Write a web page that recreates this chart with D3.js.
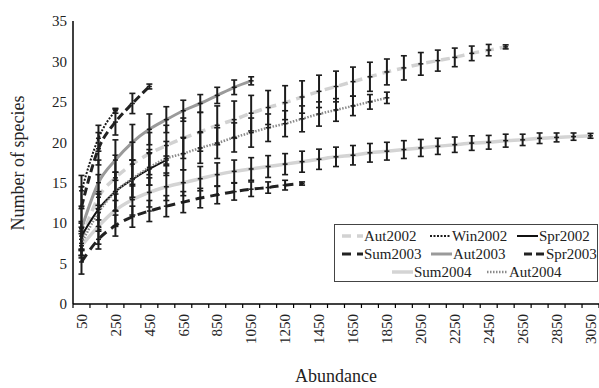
<!DOCTYPE html>
<html>
<head>
<meta charset="utf-8">
<script src="https://cdn.jsdelivr.net/npm/d3@7"></script>
<style>
  body { margin: 0; background: #fff; }
  svg { display: block; }
</style>
</head>
<body>
<div id="chart"></div>
<script>
// Abundance categories on the x axis
const abundance = [50, 150, 250, 350, 450, 550, 650, 750, 850, 950,
  1050, 1150, 1250, 1350, 1450, 1550, 1650, 1750, 1850, 1950,
  2050, 2150, 2250, 2350, 2450, 2550, 2650, 2750, 2850, 2950, 3050]
const xTickLabels = [50, 250, 450, 650, 850, 1050, 1250, 1450, 1650, 1850,
  2050, 2250, 2450, 2650, 2850, 3050]
const yTicks = [0, 5, 10, 15, 20, 25, 30, 35]

// Mean species counts and error (one value per abundance step, starting at 50)
const aut2002 = [8.0, 13.2, 15.6, 17.3, 18.6, 19.6, 20.5, 21.3, 22.1, 22.8,
  23.6, 24.3, 24.9, 25.6, 26.3, 26.9, 27.5, 28.1, 28.7, 29.2,
  29.7, 30.1, 30.5, 31.0, 31.4, 31.8]
const aut2002Err = [2.0, 2.8, 2.8, 2.7, 2.6, 2.5, 2.5, 2.4, 2.4, 2.3,
  2.2, 2.1, 2.1, 2.0, 2.0, 1.9, 1.8, 1.8, 1.6, 1.5,
  1.4, 1.3, 1.15, 0.9, 0.7, 0.25]

const win2002 = [14.0, 20.5, 23.9]
const win2002Err = [1.9, 1.6, 0.3]

const spr2002 = [8.4, 11.7, 13.9, 15.4, 16.7, 17.8]
const spr2002Err = [1.8, 2.2, 2.4, 2.4, 2.0, 0.5]

const sum2003 = [5.2, 8.0, 9.7, 10.8, 11.5, 12.1, 12.6, 13.1, 13.5, 13.9,
  14.2, 14.4, 14.7, 14.9]
const sum2003Err = [1.5, 1.2, 1.3, 1.3, 1.3, 1.3, 1.3, 1.2, 1.1, 1.05,
  0.9, 0.7, 0.6, 0.2]

const aut2003 = [9.3, 15.0, 17.8, 20.0, 21.6, 22.8, 23.9, 24.8, 25.8, 26.8, 27.6]
const aut2003Err = [2.5, 2.8, 2.5, 2.2, 1.9, 1.6, 1.3, 1.1, 1.0, 0.9, 0.5]

const spr2003 = [12.0, 19.2, 22.5, 24.8, 26.9]
const spr2003Err = [2.5, 2.0, 1.6, 1.25, 0.3]

const sum2004 = [7.2, 9.6, 11.6, 12.9, 13.8, 14.5, 15.0, 15.5, 16.0, 16.4,
  16.7, 17.0, 17.3, 17.6, 17.9, 18.2, 18.4, 18.7, 18.9, 19.1,
  19.3, 19.5, 19.7, 19.9, 20.0, 20.2, 20.3, 20.5, 20.6, 20.7, 20.8]
const sum2004Err = [1.5, 2.2, 2.0, 1.9, 1.8, 1.7, 1.6, 1.5, 1.45, 1.4,
  1.4, 1.35, 1.3, 1.3, 1.25, 1.2, 1.2, 1.15, 1.1, 1.1,
  1.05, 1.0, 0.95, 0.9, 0.85, 0.8, 0.7, 0.65, 0.55, 0.45, 0.3]

const aut2004 = [7.5, 11.3, 13.9, 15.5, 16.9, 18.0, 18.6, 19.3, 19.9, 20.6,
  21.2, 21.8, 22.3, 22.9, 23.5, 24.0, 24.5, 25.0, 25.5]
const aut2004Err = [1.5, 2.3, 2.4, 2.3, 2.2, 2.1, 2.0, 1.9, 1.9, 1.8,
  1.8, 1.7, 1.6, 1.6, 1.5, 1.4, 1.2, 0.9, 0.7]

const series = [
  { name: "Aut2002", values: aut2002, err: aut2002Err, color: "#d2d2d2", width: 3.5, dash: "9,6" },
  { name: "Win2002", values: win2002, err: win2002Err, color: "#1a1a1a", width: 2, dash: "2,1.5" },
  { name: "Spr2002", values: spr2002, err: spr2002Err, color: "#111", width: 2, dash: null },
  { name: "Sum2003", values: sum2003, err: sum2003Err, color: "#222", width: 3, dash: "9,6" },
  { name: "Aut2003", values: aut2003, err: aut2003Err, color: "#9a9a9a", width: 3, dash: null },
  { name: "Spr2003", values: spr2003, err: spr2003Err, color: "#222", width: 3, dash: "8,4" },
  { name: "Sum2004", values: sum2004, err: sum2004Err, color: "#d4d4d4", width: 3.5, dash: null },
  { name: "Aut2004", values: aut2004, err: aut2004Err, color: "#8a8a8a", width: 2.5, dash: "1.5,1.5" }
]

const width = 599
const height = 388
const margin = { top: 21, right: 0, bottom: 84, left: 73 }
const font = "'Liberation Serif', 'Times New Roman', serif"

const svg = d3.select("#chart")
  .append("svg")
  .attr("width", width)
  .attr("height", height)
  .style("font-family", font)

const x = d3.scaleBand()
  .domain(abundance)
  .range([margin.left, width - margin.right])
  .padding(0)

const y = d3.scaleLinear()
  .domain([0, 35])
  .range([height - margin.bottom, margin.top])

const cx = d => x(d) + x.bandwidth() / 2
const baseY = y(0)

// Y axis
svg.append("line")
  .attr("x1", margin.left).attr("x2", margin.left)
  .attr("y1", y(35)).attr("y2", baseY)
  .attr("stroke", "#000").attr("stroke-width", 1.5)

svg.selectAll(".y-label")
  .data(yTicks)
  .enter()
  .append("text")
  .attr("class", "y-label")
  .attr("x", margin.left - 6)
  .attr("y", d => y(d))
  .attr("dy", "0.35em")
  .attr("text-anchor", "end")
  .attr("font-size", 15)
  .attr("fill", "#222")
  .text(d => d)

// X axis with ticks between categories
svg.append("line")
  .attr("x1", margin.left).attr("x2", width)
  .attr("y1", baseY).attr("y2", baseY)
  .attr("stroke", "#000").attr("stroke-width", 1.5)

const boundaries = abundance.map(d => x(d)).concat([x(abundance[abundance.length - 1]) + x.bandwidth()])
svg.selectAll(".x-tick")
  .data(boundaries)
  .enter()
  .append("line")
  .attr("class", "x-tick")
  .attr("x1", d => d).attr("x2", d => d)
  .attr("y1", baseY).attr("y2", baseY + 4)
  .attr("stroke", "#000").attr("stroke-width", 1.2)

svg.selectAll(".x-label")
  .data(xTickLabels)
  .enter()
  .append("text")
  .attr("class", "x-label")
  .attr("transform", d => `translate(${cx(d)},${baseY + 10}) rotate(-90)`)
  .attr("dy", "0.35em")
  .attr("text-anchor", "end")
  .attr("font-size", 15)
  .attr("fill", "#222")
  .text(d => d)

// Axis titles
svg.append("text")
  .attr("x", (margin.left + width) / 2)
  .attr("y", 382)
  .attr("text-anchor", "middle")
  .attr("font-size", 18)
  .attr("fill", "#222")
  .text("Abundance")

svg.append("text")
  .attr("transform", `translate(24,163) rotate(-90)`)
  .attr("text-anchor", "middle")
  .attr("font-size", 18)
  .attr("fill", "#222")
  .text("Number of species")

// Series lines and error bars
const line = d3.line()
  .x((d, i) => cx(abundance[i]))
  .y(d => y(d))
  .curve(d3.curveMonotoneX)

const capHalf = 3

for (const s of series) {
  const g = svg.append("g").attr("class", "series")

  g.append("path")
    .datum(s.values)
    .attr("fill", "none")
    .attr("stroke", s.color)
    .attr("stroke-width", s.width)
    .attr("stroke-dasharray", s.dash)
    .attr("d", line)

  const pts = s.values.map((v, i) => ({ x: cx(abundance[i]), v, e: s.err[i] }))
  const bars = g.selectAll(".bar")
    .data(pts)
    .enter()
    .append("g")
    .attr("class", "bar")
    .attr("stroke", "#1c1c1c")

  bars.append("line")
    .attr("x1", d => d.x).attr("x2", d => d.x)
    .attr("y1", d => y(d.v + d.e)).attr("y2", d => y(d.v - d.e))
    .attr("stroke-width", 2)
  bars.append("line")
    .attr("x1", d => d.x - capHalf).attr("x2", d => d.x + capHalf)
    .attr("y1", d => y(d.v + d.e)).attr("y2", d => y(d.v + d.e))
    .attr("stroke-width", 1.6)
  bars.append("line")
    .attr("x1", d => d.x - capHalf).attr("x2", d => d.x + capHalf)
    .attr("y1", d => y(d.v - d.e)).attr("y2", d => y(d.v - d.e))
    .attr("stroke-width", 1.6)
  bars.append("line")
    .attr("x1", d => d.x - 2.5).attr("x2", d => d.x + 2.5)
    .attr("y1", d => y(d.v)).attr("y2", d => y(d.v))
    .attr("stroke-width", 1.5)
}

// Legend
const legend = svg.append("g").attr("class", "legend")
legend.append("rect")
  .attr("x", 334.5).attr("y", 224.5)
  .attr("width", 263).attr("height", 57)
  .attr("fill", "#fff")
  .attr("stroke", "#444")
  .attr("stroke-width", 1)

const legendPos = [
  { x: 342, y: 236 }, { x: 430, y: 236 }, { x: 517, y: 236 },
  { x: 342, y: 254 }, { x: 431, y: 254 }, { x: 524, y: 254 },
  { x: 392, y: 272 }, { x: 487, y: 272 }
]

series.forEach((s, i) => {
  const p = legendPos[i]
  const item = legend.append("g")
  item.append("line")
    .attr("x1", p.x).attr("x2", p.x + 21)
    .attr("y1", p.y).attr("y2", p.y)
    .attr("stroke", s.color)
    .attr("stroke-width", s.width)
    .attr("stroke-dasharray", s.dash)
  item.append("text")
    .attr("x", p.x + 22)
    .attr("y", p.y)
    .attr("dy", "0.35em")
    .attr("font-size", 15)
    .attr("fill", "#222")
    .text(s.name)
})
</script>
</body>
</html>
